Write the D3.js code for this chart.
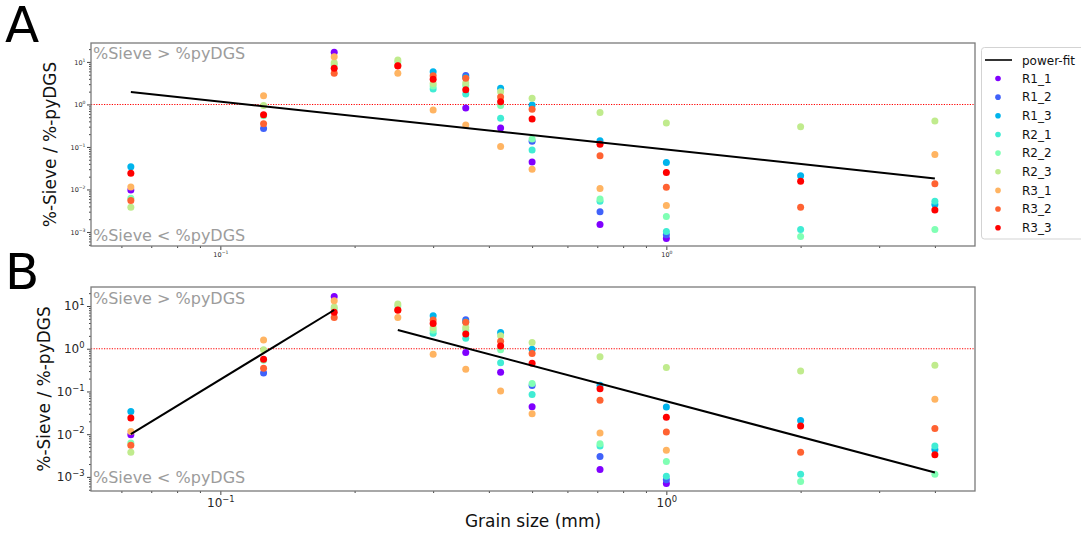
<!DOCTYPE html>
<html>
<head>
<meta charset="utf-8">
<script src="https://cdn.jsdelivr.net/npm/d3@7"></script>
<style>
  body { margin: 0; background: #fff; }
  svg { display: block; font-family: "DejaVu Sans", sans-serif; }
</style>
</head>
<body>
<svg id="fig" width="1081" height="533"></svg>
<script>
// Sieve sizes (mm)
const sizes = [0.063, 0.125, 0.18, 0.25, 0.3, 0.355, 0.425, 0.5, 0.71, 1.0, 2.0, 4.0];

// Ratio %-Sieve / %-pyDGS per sample, one value per sieve size (null = no point)
const R1_1 = [0.0097, null, 16.8, null, null, 0.82, 0.28, 0.044, 0.0015, 0.0007, null, null];
const R1_2 = [null, 0.27, null, null, null, 4.8, null, 0.137, 0.0030, 0.00086, null, null];
const R1_3 = [0.034, null, null, null, 5.9, 4.3, 2.4, 0.97, 0.14, 0.043, 0.021, 0.0044];
const R2_1 = [null, null, null, null, 2.3, 1.75, 0.47, 0.085, 0.0053, 0.00103, 0.00115, 0.0053];
const R2_2 = [0.0062, 0.54, 8.6, 10.0, 2.7, 2.8, 0.95, 0.154, 0.0060, 0.0023, 0.00078, 0.00115];
const R2_3 = [0.0038, 0.95, 9.5, 11.1, 3.1, 3.2, 2.0, 1.40, 0.645, 0.365, 0.30, 0.41];
const R3_1 = [0.0115, 1.6, 13.2, 5.4, 0.74, 0.33, 0.103, 0.030, 0.0106, 0.0042, null, 0.066];
const R3_2 = [0.0055, 0.35, 5.4, 8.0, 4.7, 4.15, 1.5, 0.77, 0.062, 0.0112, 0.0038, 0.0136];
const R3_3 = [0.024, 0.57, 7.1, 8.1, 3.9, 2.2, 1.16, 0.455, 0.116, 0.025, 0.0155, 0.0033];

const seriesNames = ["R1_1", "R1_2", "R1_3", "R2_1", "R2_2", "R2_3", "R3_1", "R3_2", "R3_3"];
const seriesValues = [R1_1, R1_2, R1_3, R2_1, R2_2, R2_3, R3_1, R3_2, R3_3];

// Power-fit lines (end points in data units; straight in log-log space)
const fitA_x = [0.063, 4.0];
const fitA_y = [1.96, 0.0182];
const fitB1_x = [0.063, 0.18];
const fitB1_y = [0.0100, 8.06];
const fitB2_x = [0.25, 4.0];
const fitB2_y = [2.74, 0.00127];

// Tick values
const xMajorTicks = [0.1, 1];
const yMajorTicks = [1e-3, 1e-2, 1e-1, 1, 10];

// 'rainbow' colormap sampled for 9 series
const palette = ["#8000ff", "#4062fa", "#00b4ec", "#40ecd4", "#80ffb4", "#c0eb8d", "#ffb462", "#ff6232", "#ff0000"];

const svg = d3.select("#fig");
const left = 91, right = 975;

const x = d3.scaleLog().domain([Math.pow(10, -1.29), Math.pow(10, 0.692)]).range([left, right]);

function minorValues(scale) {
  const [d0, d1] = scale.domain();
  const out = [];
  for (let e = -5; e <= 2; e++) {
    for (let k = 2; k <= 9; k++) {
      const v = k * Math.pow(10, e);
      if (v >= d0 && v <= d1) out.push(v);
    }
  }
  return out;
}

function sciLabel(sel, fs) {
  sel.each(function(v) {
    const t = d3.select(this);
    const e = Math.round(Math.log10(v));
    t.text(null);
    t.append("tspan").text("10");
    t.append("tspan")
      .attr("dy", -0.42 * fs)
      .attr("font-size", fs * 0.7)
      .text(e < 0 ? "\u2212" + (-e) : String(e));
  });
}

function drawPanel(cfg) {
  const y = d3.scaleLog().domain([Math.pow(10, -3.33), Math.pow(10, 1.445)]).range([cfg.bottom, cfg.top]);
  const g = svg.append("g");

  // reference line at ratio 1
  g.append("line")
    .attr("x1", left).attr("x2", right)
    .attr("y1", y(1)).attr("y2", y(1))
    .attr("stroke", "#ff0000").attr("stroke-width", 1.1)
    .attr("stroke-dasharray", "1.2,1.4");

  // scatter points, one series at a time
  seriesValues.forEach((vals, i) => {
    const pts = sizes.map((s, j) => [s, vals[j]]).filter(d => d[1] != null);
    g.append("g").selectAll("circle").data(pts).join("circle")
      .attr("cx", d => x(d[0]))
      .attr("cy", d => y(d[1]))
      .attr("r", 3.5)
      .attr("fill", palette[i]);
  });

  // power-fit lines
  const line = d3.line().x(d => x(d[0])).y(d => y(d[1]));
  cfg.fits.forEach(f => {
    g.append("path")
      .datum(f[0].map((v, k) => [v, f[1][k]]))
      .attr("d", line)
      .attr("fill", "none")
      .attr("stroke", "#000")
      .attr("stroke-width", 2);
  });

  // annotations
  g.append("text").attr("x", 93).attr("y", cfg.top + cfg.textTop)
    .attr("font-size", 16).attr("fill", "#9c9c9c").text("%Sieve > %pyDGS");
  g.append("text").attr("x", 93).attr("y", cfg.bottom - cfg.textBottom)
    .attr("font-size", 16).attr("fill", "#9c9c9c").text("%Sieve < %pyDGS");

  const tickCol = "#444";
  // x minor ticks
  g.append("g").attr("transform", `translate(0,${cfg.bottom})`)
    .call(d3.axisBottom(x).tickValues(minorValues(x)).tickSize(2).tickFormat(""))
    .call(a => a.select(".domain").remove())
    .call(a => a.selectAll("line").attr("stroke", tickCol));
  // x major ticks
  g.append("g").attr("transform", `translate(0,${cfg.bottom})`)
    .call(d3.axisBottom(x).tickValues(xMajorTicks).tickSize(4).tickPadding(cfg.xPad))
    .call(a => a.select(".domain").remove())
    .call(a => a.selectAll("line").attr("stroke", tickCol))
    .call(a => a.attr("font-size", cfg.tickFont).attr("font-family", "DejaVu Sans"))
    .call(a => a.selectAll("text").attr("fill", "#262626").call(sciLabel, cfg.tickFont));

  // y minor ticks
  g.append("g").attr("transform", `translate(${left},0)`)
    .call(d3.axisLeft(y).tickValues(minorValues(y)).tickSize(2).tickFormat(""))
    .call(a => a.select(".domain").remove())
    .call(a => a.selectAll("line").attr("stroke", tickCol));
  // y major ticks
  g.append("g").attr("transform", `translate(${left},0)`)
    .call(d3.axisLeft(y).tickValues(yMajorTicks).tickSize(4).tickPadding(cfg.yPad))
    .call(a => a.select(".domain").remove())
    .call(a => a.selectAll("line").attr("stroke", tickCol))
    .call(a => a.attr("font-size", cfg.tickFont).attr("font-family", "DejaVu Sans"))
    .call(a => a.selectAll("text").attr("fill", "#262626").call(sciLabel, cfg.tickFont));

  // frame
  g.append("rect")
    .attr("x", left).attr("y", cfg.top)
    .attr("width", right - left).attr("height", cfg.bottom - cfg.top)
    .attr("fill", "none").attr("stroke", "#7a7a7a").attr("stroke-width", 1.3);

  // y-axis title
  g.append("text")
    .attr("transform", `translate(${cfg.yTitleX},${(cfg.top + cfg.bottom) / 2}) rotate(-90)`)
    .attr("text-anchor", "middle").attr("font-size", 17).attr("fill", "#111")
    .text("%-Sieve / %-pyDGS");

  // panel letter
  svg.append("text").attr("x", 5).attr("y", cfg.letterY)
    .attr("font-size", 50).attr("fill", "#000").text(cfg.letter);
}

drawPanel({
  letter: "A", letterY: 42, top: 43, bottom: 246,
  fits: [[fitA_x, fitA_y]],
  tickFont: 6.5, xPad: 2, yPad: 1.5, yTitleX: 56,
  textTop: 16, textBottom: 5
});

drawPanel({
  letter: "B", letterY: 289, top: 287, bottom: 491,
  fits: [[fitB1_x, fitB1_y], [fitB2_x, fitB2_y]],
  tickFont: 12, xPad: 3.5, yPad: 2.5, yTitleX: 50,
  textTop: 17, textBottom: 8
});

// x-axis title
svg.append("text").attr("x", 533).attr("y", 527)
  .attr("text-anchor", "middle").attr("font-size", 17).attr("fill", "#111")
  .text("Grain size (mm)");

// legend
const lg = svg.append("g");
lg.append("rect").attr("x", 981.5).attr("y", 47.5).attr("width", 110).attr("height", 191.5)
  .attr("rx", 3).attr("fill", "#fff").attr("stroke", "#d3d3d3");
lg.append("line").attr("x1", 985).attr("x2", 1012).attr("y1", 60).attr("y2", 60)
  .attr("stroke", "#000").attr("stroke-width", 1.6);
lg.append("text").attr("x", 1022).attr("y", 64.5).attr("font-size", 12).attr("fill", "#111").text("power-fit");
seriesNames.forEach((name, i) => {
  const yy = 78.5 + i * 18.65;
  lg.append("circle").attr("cx", 998).attr("cy", yy).attr("r", 2.8).attr("fill", palette[i]);
  lg.append("text").attr("x", 1022).attr("y", yy + 4.3).attr("font-size", 12).attr("fill", "#111").text(name);
});
</script>
</body>
</html>
